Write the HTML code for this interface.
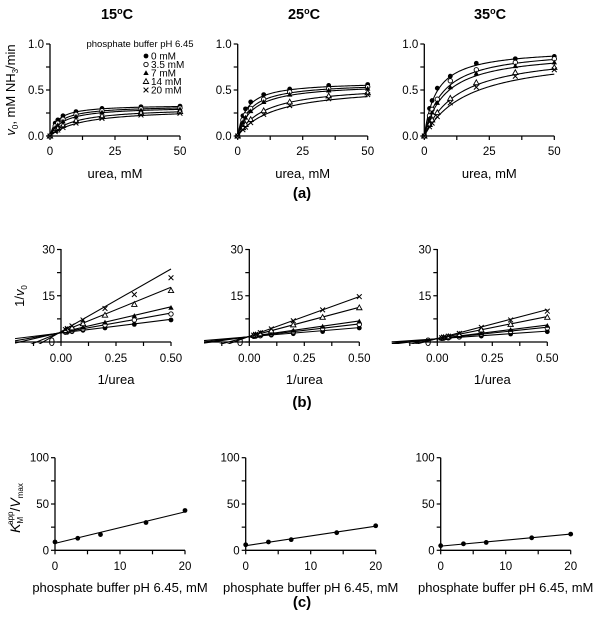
<!DOCTYPE html>
<html><head><meta charset="utf-8"><style>
html,body{margin:0;padding:0;background:#fff}
svg{display:block;font-family:"Liberation Sans",Arial,sans-serif}
</style></head><body>
<svg id="fig" width="604" height="619" viewBox="0 0 604 619" xmlns="http://www.w3.org/2000/svg"></svg>
<script>
const temps = ["15","25","35"];
const seriesNames = ["0 mM","3.5 mM","7 mM","14 mM","20 mM"];
const markers = ["fcircle","ocircle","ftri","otri","cross"];
const urea = [0,2,3,5,10,20,35,50];
// measured v0 per temperature per series
const v15 = [
 [0,.140,.175,.220,.265,.300,.318,.325],
 [0,.110,.140,.182,.235,.275,.296,.305],
 [0,.090,.118,.158,.212,.255,.279,.290],
 [0,.060,.082,.115,.168,.218,.250,.266],
 [0,.048,.065,.092,.140,.192,.228,.248]];
const v25 = [
 [0,.220,.295,.370,.450,.510,.550,.560],
 [0,.175,.230,.300,.400,.480,.515,.535],
 [0,.150,.200,.270,.370,.450,.495,.515],
 [0,.090,.125,.180,.275,.370,.435,.470],
 [0,.068,.096,.145,.235,.330,.405,.450]];
const v35 = [
 [0,.300,.385,.520,.650,.790,.840,.865],
 [0,.220,.290,.400,.600,.720,.800,.840],
 [0,.190,.255,.360,.530,.680,.760,.800],
 [0,.125,.175,.255,.410,.580,.690,.745],
 [0,.100,.140,.210,.360,.530,.650,.720]];
// fitted parameters
const vmax15 = [.34,.33,.32,.31,.30], km15 = [3.0,4.2,5.3,9.0,12.2];
const vmax25 = [.59,.58,.57,.56,.55], km25 = [3.5,4.8,5.8,10.6,14.2];
const vmax35 = [.95,.95,.92,.92,.90], km35 = [4.7,7.1,8.1,13.2,16.9];
const buffer = [0,3.5,7,14,20];
const ratio15 = [9,13,17,30,43];
const ratio25 = [6,9,11.5,19,26.5];
const ratio35 = [5,7,8.5,13.5,17.5];
const fitC15 = [7.5,1.7], fitC25 = [5,1.05], fitC35 = [4.5,0.65];
const ticksA = [0,25,50], ticksAy = [0,0.5,1.0];
const ticksB = [0,0.25,0.5], ticksBy = [0,15,30];
const ticksC = [0,10,20], ticksCy = [0,50,100];

const V=[v15,v25,v35], VM=[vmax15,vmax25,vmax35], KM=[km15,km25,km35];
const R=[ratio15,ratio25,ratio35], FC=[fitC15,fitC25,fitC35];
const svg=document.getElementById('fig'); const NS="http://www.w3.org/2000/svg";
function el(t,a,p){const e=document.createElementNS(NS,t);for(const k in a)e.setAttribute(k,a[k]);(p||svg).appendChild(e);return e;}
function txt(s,x,y,o,p){const e=el('text',Object.assign({x:x,y:y,'font-size':11.5,'text-anchor':'middle',fill:'#000'},o||{}),p);e.innerHTML=s;return e;}
function marker(type,x,y,g){
 let e;
 if(type==='fcircle')e=el('circle',{cx:x,cy:y,r:2.4,fill:'#000'},g);
 else if(type==='ocircle')e=el('circle',{cx:x,cy:y,r:2.2,fill:'#fff',stroke:'#000','stroke-width':0.9},g);
 else if(type==='ftri')e=el('polygon',{points:`${x},${y-2.8} ${x-2.7},${y+2} ${x+2.7},${y+2}`,fill:'#000'},g);
 else if(type==='otri')e=el('polygon',{points:`${x},${y-2.8} ${x-2.7},${y+2} ${x+2.7},${y+2}`,fill:'#fff',stroke:'#000','stroke-width':0.9},g);
 else e=el('path',{d:`M${x-2.4},${y-2.4}L${x+2.4},${y+2.4}M${x-2.4},${y+2.4}L${x+2.4},${y-2.4}`,stroke:'#000','stroke-width':1},g);
 
 
}
function axes(g,x0,x1,y0,y1,xTicks,xMinor,yTicks,yMinor,sx,sy,yAxisX,xAxisY,fmtX,fmtY,tlY){
 el('line',{x1:x0,y1:xAxisY,x2:x1,y2:xAxisY,stroke:'#000','stroke-width':1.3},g);
 el('line',{x1:yAxisX,y1:y0,x2:yAxisX,y2:y1,stroke:'#000','stroke-width':1.3},g);
 xTicks.concat(xMinor).forEach(v=>el('line',{x1:sx(v),y1:xAxisY,x2:sx(v),y2:xAxisY+4,stroke:'#000','stroke-width':1.2},g));
 yTicks.concat(yMinor).forEach(v=>el('line',{x1:yAxisX,y1:sy(v),x2:yAxisX-4,y2:sy(v),stroke:'#000','stroke-width':1.2},g));
 xTicks.forEach(v=>{const t=txt(fmtX(v),sx(v),tlY,{},g);});
 yTicks.forEach(v=>{const t=txt(fmtY(v),yAxisX-6,sy(v)+4,{'text-anchor':'end'},g);});
}
const axA=[50,237.7,424.3], axB=[61,249.3,437.3], axBl=[15,204,391.7], axC=[55,245.7,440.7];
for(let p=0;p<3;p++){
 const tt=txt(temps[p]+'<tspan baseline-shift="super" font-size="9">o</tspan>C',[117,304,490][p],19,{'font-size':14.5,'font-weight':'bold'});
 
 
 // (a)
 const ga=el('g',{});  
 const ax=axA[p], sxa=v=>ax+v*130/50, sya=v=>136-v*92;
 axes(ga,ax,ax+130,44,136,ticksA,[12.5,37.5],ticksAy,[0.25,0.75],sxa,sya,ax,136,v=>v,v=>v.toFixed(1),155);
 for(let s=0;s<5;s++){
  let d='';for(let i=0;i<=100;i++){const u=i*0.5;const y=VM[p][s]*u/(KM[p][s]+u);d+=(i?'L':'M')+sxa(u).toFixed(2)+','+sya(y).toFixed(2);}
  const l=el('path',{d:d,fill:'none',stroke:'#000','stroke-width':1.1},ga);  
  urea.forEach((u,i)=>marker(markers[s],sxa(u),sya(V[p][s][i]),ga));
 }
 txt('urea, mM',ax+65,178,{'font-size':13},ga);
 // (b)
 const gb=el('g',{});  
 const bx=axB[p], bl=axBl[p], sxb=v=>bx+v*220, syb=v=>342-v*92.5/30;
 const cp=el('clipPath',{id:'cb'+p}); el('rect',{x:bl,y:240,width:200,height:104},cp);
 axes(gb,bl,bx+110,249,342,ticksB,[-0.125,0.125,0.375],ticksBy,[7.5,22.5],sxb,syb,bx,342,v=>v.toFixed(2),v=>v,362);
 const lg=el('g',{'clip-path':`url(#cb${p})`},gb);
 for(let s=0;s<5;s++){
  const xl=(bl-bx)/220, f=x=>1/VM[p][s]+KM[p][s]/VM[p][s]*x;
  const l=el('line',{x1:sxb(xl),y1:syb(f(xl)),x2:sxb(0.5),y2:syb(f(0.5)),stroke:'#000','stroke-width':1.1},lg);
   
  urea.forEach((u,i)=>{if(u>0)marker(markers[s],sxb(1/u),syb(1/V[p][s][i]),gb);});
 }
 txt('1/urea',bx+55,384,{'font-size':13},gb);
 // (c)
 const gc=el('g',{});  
 const cx=axC[p], sxc=v=>cx+v*130/20, syc=v=>550.3-v*0.926;
 axes(gc,cx,cx+130,457.7,550.3,ticksC,[5,15],ticksCy,[25,75],sxc,syc,cx,550.3,v=>v,v=>v,570);
 const fl=el('line',{x1:sxc(0),y1:syc(FC[p][0]),x2:sxc(20),y2:syc(FC[p][0]+FC[p][1]*20),stroke:'#000','stroke-width':1.1},gc);
  
 buffer.forEach((b,i)=>marker('fcircle',sxc(b),syc(R[p][i]),gc));
 txt('phosphate buffer pH 6.45, mM',cx+65,592,{'font-size':13},gc);
}
let t=txt('<tspan font-style="italic">v</tspan><tspan font-size="8" dy="3">0</tspan><tspan dy="-3">, mM NH</tspan><tspan font-size="8" dy="3">3</tspan><tspan dy="-3">/min</tspan>',0,0,{'font-size':13,transform:'translate(15,90) rotate(-90)'});
 
t=txt('1/<tspan font-style="italic">v</tspan><tspan font-size="8" dy="3">0</tspan>',0,0,{'font-size':13,transform:'translate(24,296) rotate(-90)'});
 
t=txt('<tspan font-style="italic">K</tspan><tspan font-size="8" dy="3">M</tspan><tspan font-size="8" dy="-10" dx="-8">app</tspan><tspan dy="7">/</tspan><tspan font-style="italic">V</tspan><tspan font-size="8" dy="3">max</tspan>',0,0,{'font-size':14,transform:'translate(20,508) rotate(-90)'});
 
[['(a)',198],['(b)',407],['(c)',607]].forEach(a=>{const e=txt(a[0],302,a[1],{'font-size':15,'font-weight':'bold'});});
const lgd=el('g',{});  
txt('phosphate buffer pH 6.45',140,47,{'font-size':9.5},lgd);
seriesNames.forEach((n,s)=>{const y=56+s*8.5;marker(markers[s],146,y,lgd);const e=txt(n,151,y+3.5,{'font-size':10,'text-anchor':'start'},lgd);});
</script>
</body></html>
